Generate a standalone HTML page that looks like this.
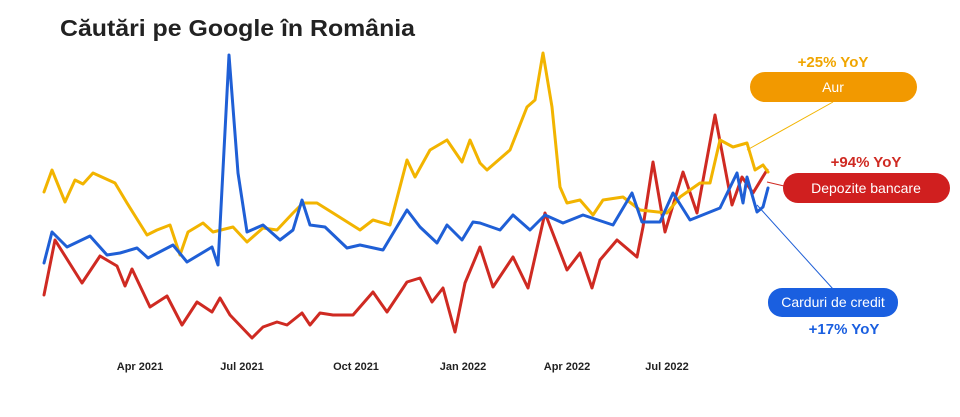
<!DOCTYPE html>
<html><head><meta charset="utf-8"><style>
html,body{margin:0;padding:0;background:#fff;width:960px;height:417px;overflow:hidden}
svg{display:block}
</style></head><body>
<svg width="960" height="417" viewBox="0 0 960 417" xmlns="http://www.w3.org/2000/svg">
<text x="60" y="36" font-family="Liberation Sans, sans-serif" font-weight="bold" font-size="23" fill="#222" textLength="355" lengthAdjust="spacingAndGlyphs">Căutări pe Google în România</text>
<g font-family="Liberation Sans, sans-serif" font-weight="bold" font-size="11" fill="#222" text-anchor="middle">
<text x="140" y="370">Apr 2021</text>
<text x="242" y="370">Jul 2021</text>
<text x="356" y="370">Oct 2021</text>
<text x="463" y="370">Jan 2022</text>
<text x="567" y="370">Apr 2022</text>
<text x="667" y="370">Jul 2022</text>
</g>
<g fill="none" stroke-width="3" stroke-linejoin="round" stroke-linecap="round">
<polyline stroke="#cf2a22" points="44,295 55,240 82,283 100,256 117,266 125,286 132,269 150,307 167,296 182,325 197,302 212,312 220,298 230,315 252,338 263,327 277,322 287,325 302,313 310,325 320,313 333,315 353,315 373,292 387,312 407,282 420,278 432,302 443,288 455,332 465,283 480,247 493,287 513,257 528,288 545,213 567,270 580,253 592,288 600,260 617,240 637,257 643,227 653,162 665,232 683,172 697,213 715,115 732,205 742,177 753,193 767,170"/>
<polyline stroke="#f2b400" points="44,192 52,170 65,202 75,180 83,184 93,173 115,183 127,203 147,235 157,230 170,225 180,255 188,232 203,223 213,232 233,227 247,242 263,228 277,230 293,213 303,203 317,203 333,213 360,230 373,220 390,225 407,160 415,177 430,150 447,140 462,162 470,140 480,163 487,170 510,150 527,107 535,100 543,53 552,107 560,187 567,203 580,200 593,215 603,200 623,197 640,210 667,213 680,197 700,183 710,183 720,140 733,147 747,143 755,170 763,165 768,172"/>
<polyline stroke="#1f5fd6" points="44,263 52,232 67,247 90,236 107,255 120,253 137,248 148,258 173,245 187,262 212,247 218,265 229,55 238,173 247,232 263,225 280,240 293,230 302,200 310,225 325,227 347,248 360,245 383,250 407,210 420,227 437,243 447,225 462,240 473,222 480,223 500,230 513,215 530,230 545,215 563,223 583,215 613,225 632,193 642,222 660,222 673,193 690,220 720,208 737,173 743,203 747,177 757,212 763,207 768,188"/>
</g>
<line x1="833" y1="102" x2="747" y2="150" stroke="#f2b400" stroke-width="1"/>
<line x1="784" y1="186" x2="767" y2="182" stroke="#cf2a22" stroke-width="1"/>
<line x1="833" y1="289" x2="757" y2="205" stroke="#1f5fd6" stroke-width="1"/>
<g font-family="Liberation Sans, sans-serif" text-anchor="middle">
<text x="833" y="67" font-weight="bold" font-size="15" fill="#f0a500">+25% YoY</text>
<rect x="750" y="72" width="167" height="30" rx="15" fill="#f29900"/>
<text x="833" y="92" font-size="14" fill="#fff">Aur</text>
<text x="866" y="167" font-weight="bold" font-size="15" fill="#cf2a22">+94% YoY</text>
<rect x="783" y="173" width="167" height="30" rx="15" fill="#d01f1f"/>
<text x="866" y="193" font-size="14" fill="#fff">Depozite bancare</text>
<rect x="768" y="288" width="130" height="29" rx="14" fill="#1a5fe0"/>
<text x="833" y="307" font-size="14" fill="#fff">Carduri de credit</text>
<text x="844" y="334" font-weight="bold" font-size="15" fill="#1a5fe0">+17% YoY</text>
</g>
</svg>
</body></html>
